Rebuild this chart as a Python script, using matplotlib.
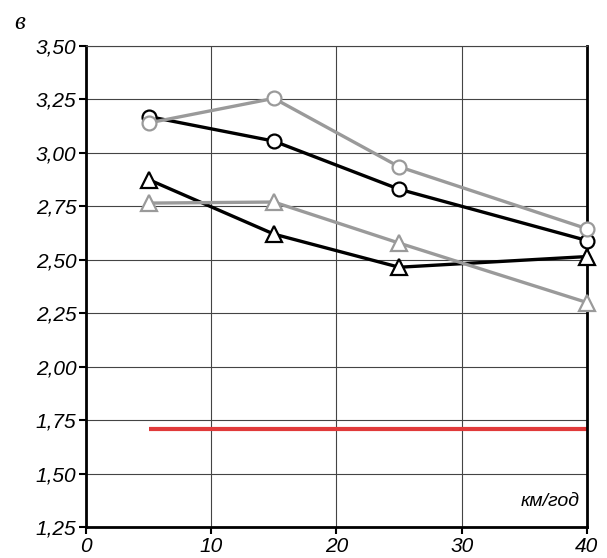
import matplotlib.pyplot as plt

plt.rcParams['font.family'] = ['Liberation Sans', 'DejaVu Sans']

# швидкість, км/год
x = [5, 15, 25, 40]
# коефіцієнти по серіях
circ_black = [3.17, 3.055, 2.83, 2.59]
circ_gray = [3.14, 3.255, 2.935, 2.645]
tri_black = [2.875, 2.62, 2.465, 2.515]
tri_gray = [2.765, 2.77, 2.578, 2.30]
# нормативний рівень
norm_x = [5, 40]
norm_y = [1.71, 1.71]

yticks = [1.25, 1.50, 1.75, 2.00, 2.25, 2.50, 2.75, 3.00, 3.25, 3.50]
xticks = [0, 10, 20, 30, 40]

fig = plt.figure(figsize=(6.07, 5.58), dpi=100)
ax = fig.add_axes([0.1417, 0.0556, 0.8253, 0.862])

gray = '#9a9a9a'
ax.plot(x, circ_black, color='black', lw=2.4, marker='o', ms=10,
        mfc='white', mec='black', mew=1.6, zorder=3, clip_on=False)
ax.plot(x, circ_gray, color=gray, lw=2.4, marker='o', ms=10,
        mfc='white', mec=gray, mew=1.6, zorder=4, clip_on=False)
ax.plot(x, tri_black, color='black', lw=2.4, marker='^', ms=11,
        mfc='white', mec='black', mew=1.6, zorder=3, clip_on=False)
ax.plot(x, tri_gray, color=gray, lw=2.4, marker='^', ms=11,
        mfc='white', mec=gray, mew=1.6, zorder=4, clip_on=False)
ax.plot(norm_x, norm_y, color='#e03a3a', lw=3, solid_capstyle='butt', zorder=2)

ax.set_xlim(0, 40)
ax.set_ylim(1.25, 3.50)
ax.set_xticks(xticks)
ax.set_yticks(yticks)
ax.set_xticklabels([str(v) for v in xticks], fontstyle='italic', fontsize=15)
ax.set_yticklabels([f'{v:.2f}'.replace('.', ',') for v in yticks],
                   fontstyle='italic', fontsize=15)
ax.tick_params(axis='y', length=5, width=1.5, pad=2)
ax.tick_params(axis='x', length=5, width=1.5, pad=2)

ax.grid(True, color='#444444', lw=0.8)
ax.set_axisbelow(True)
for side in ['left', 'bottom', 'right']:
    ax.spines[side].set_linewidth(2)
ax.spines['top'].set_linewidth(0.8)
ax.spines['top'].set_color('#444444')

ax.text(39.4, 1.35, 'км/год', ha='right', va='baseline', fontsize=14,
        fontstyle='italic')
fig.text(0.032, 0.958, 'в', ha='center', va='center', fontsize=18,
         fontstyle='italic', family=['Liberation Serif', 'DejaVu Serif'])

fig.savefig('out.png', dpi=100)
